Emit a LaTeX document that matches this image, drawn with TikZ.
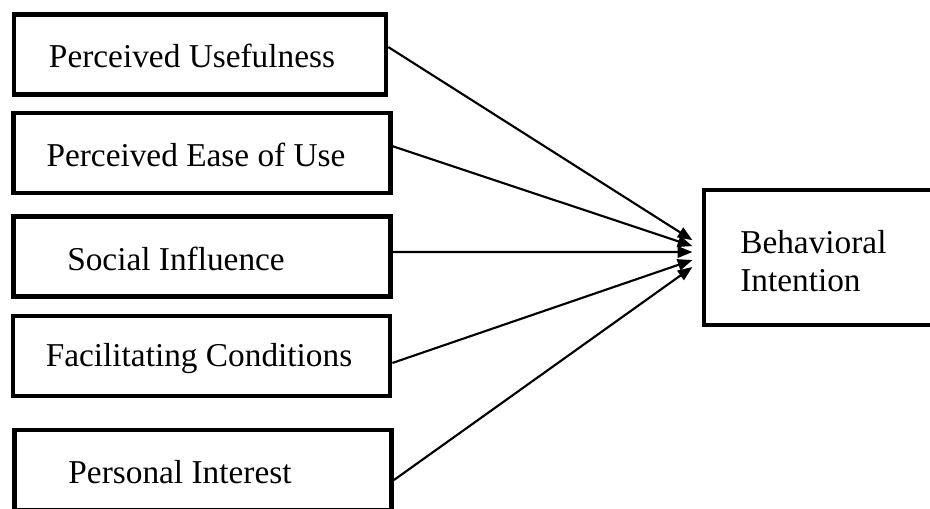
\documentclass[tikz,border=0pt]{standalone}
\usepackage{fontspec}
\setmainfont{Liberation Serif}
\usetikzlibrary{arrows.meta,positioning}

\begin{document}
\begin{tikzpicture}[x=0.75pt,y=-0.75pt,
        factor/.style={draw, line width=3.4pt, minimum width=283pt, minimum height=60pt, inner sep=0pt},
        txt/.style={font=\fontsize{25}{28.5}\selectfont, inner sep=0pt, align=left},
        arrow/.style={-{Triangle[length=11pt,width=8.5pt]}, line width=1.6pt}
    ]
    \useasboundingbox (0,0) rectangle (930,508);
    \clip (0,0) rectangle (930,508);

    % Determinantes
    \node[factor, minimum width=279pt] (pu) at (200,54.5) {};
    \node[factor] (peou) at (202,153) {};
    \node[factor] (si) at (202,256.5) {};
    \node[factor] (fc) at (201.5,356) {};
    \node[factor] (pi) at (203,470) {};

    % Intencao
    \node[factor, minimum width=171.75pt, minimum height=101.25pt] (bi) at (818.5,257.5) {};

    % Textos
    \node[txt] (pu-t) at (192,56) {Perceived Usefulness};
    \node[txt] (peou-t) at (196,155) {Perceived Ease of Use};
    \node[txt] (si-t) at (176,259) {Social Influence};
    \node[txt] (fc-t) at (199,359) {Facilitating Conditions};
    \node[txt] (pi-t) at (180,472) {Personal Interest};
    \node[txt, anchor=west] (bi-t) at (740,261) {Behavioral\\Intention};

    % Setas
    \draw[arrow] ([yshift=5.6pt]pu.east) -- ([xshift=-7pt,yshift=13pt]bi.west);
    \draw[arrow] ([xshift=-3pt,yshift=6pt]peou.east) -- ([xshift=-7pt,yshift=8.6pt]bi.west);
    \draw[arrow] ([yshift=3.4pt]si.east) -- ([xshift=-7pt,yshift=4.1pt]bi.west);
    \draw[arrow] ([yshift=-5.2pt]fc.east) -- ([xshift=-7pt,yshift=-1.9pt]bi.west);
    \draw[arrow] ([yshift=-7.5pt]pi.east) -- ([xshift=-7pt,yshift=-7.1pt]bi.west);

\end{tikzpicture}
\end{document}
